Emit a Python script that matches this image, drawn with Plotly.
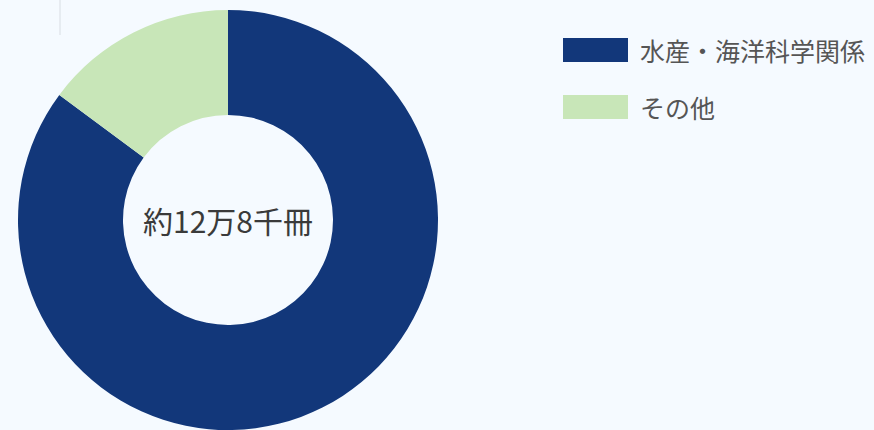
import plotly.graph_objects as go

labels = ["水産・海洋科学関係", "その他"]
values = [109000, 19000]
colors = ["#12377a", "#c8e6b8"]
center_label = "約12万8千冊"

W, H = 874, 430
BG = "#f5faff"
FONT = "Noto Sans CJK JP"

fig = go.Figure()
fig.add_trace(go.Pie(
    labels=labels, values=values, hole=0.5, sort=False,
    direction="clockwise", rotation=0,
    marker=dict(colors=colors, line=dict(width=0)),
    textinfo="none", hoverinfo="label+value",
    domain=dict(x=[16 / W, 440 / W], y=[0, 420 / H]),
    showlegend=False,
))

# center text
fig.add_annotation(x=228 / W, y=1 - 220 / H, xref="paper", yref="paper",
                   text=center_label, showarrow=False,
                   xanchor="center", yanchor="middle",
                   font=dict(family=FONT, size=30, color="#3a3a3a"))

# custom legend
rows_y = [50, 107]
shapes = []
for i, (lab, col) in enumerate(zip(labels, colors)):
    yc = rows_y[i]
    shapes.append(dict(type="rect", xref="paper", yref="paper",
                       x0=563 / W, x1=628 / W,
                       y0=1 - (yc + 12) / H, y1=1 - (yc - 12) / H,
                       fillcolor=col, line=dict(width=0)))
    fig.add_annotation(x=638 / W, y=1 - yc / H, xref="paper", yref="paper",
                       text=lab, showarrow=False, xanchor="left", yanchor="middle",
                       font=dict(family=FONT, size=25, color="#555555"))

shapes.append(dict(type="line", xref="paper", yref="paper",
                   x0=60 / W, x1=60 / W, y0=1 - 35 / H, y1=1,
                   line=dict(color="#d8dde3", width=1)))

fig.update_layout(
    width=W, height=H, margin=dict(l=0, r=0, t=0, b=0),
    paper_bgcolor=BG, plot_bgcolor=BG, shapes=shapes,
    font=dict(family=FONT),
)

fig.write_html(
    "out.html",
    config={"displayModeBar": False},
    post_script="document.body.style.margin='0';document.body.style.overflow='hidden';",
)
